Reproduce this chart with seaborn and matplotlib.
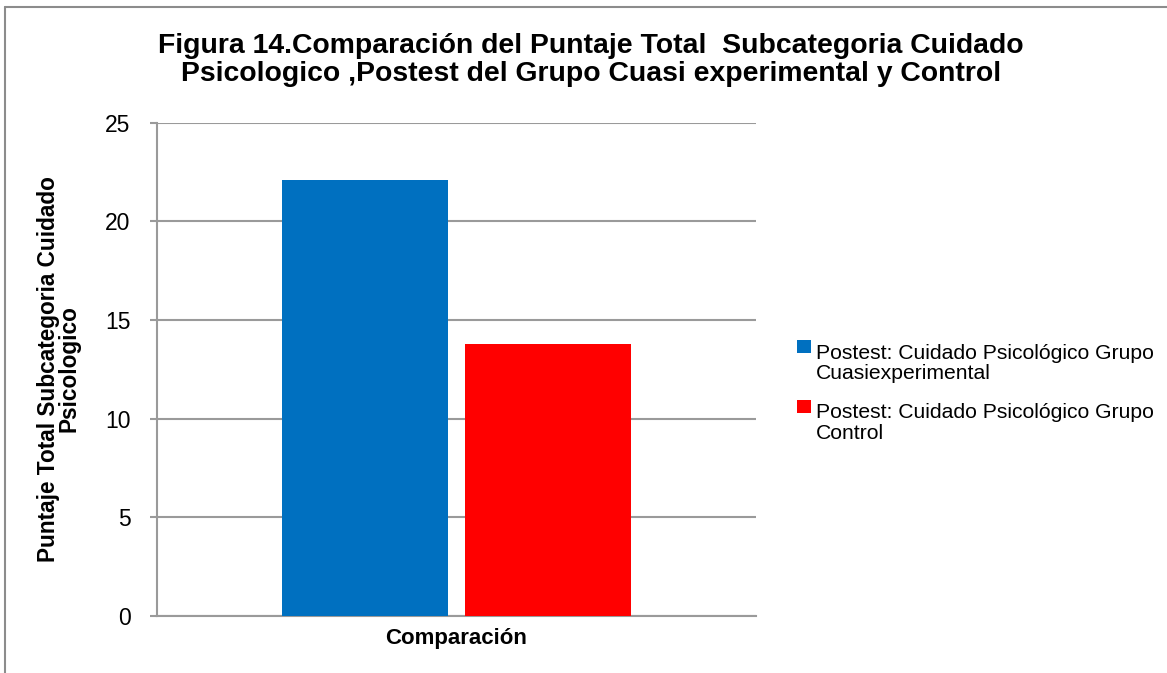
import matplotlib
matplotlib.use("Agg")
import matplotlib.pyplot as plt
import pandas as pd
import seaborn as sns
from matplotlib.lines import Line2D

# data
categoria = ["Comparación", "Comparación"]
series = ["Postest: Cuidado Psicológico Grupo\nCuasiexperimental",
          "Postest: Cuidado Psicológico Grupo\nControl"]
valores = [22.1, 13.8]
colores = ["#0070C0", "#FF0000"]
yticks = [0, 5, 10, 15, 20, 25]

titulo = ("Figura 14.Comparación del Puntaje Total  Subcategoria Cuidado\n"
          "Psicologico ,Postest del Grupo Cuasi experimental y Control")
ylabel = "Puntaje Total Subcategoria Cuidado\nPsicologico"
xlabel = "Comparación"

df = pd.DataFrame({"categoria": categoria, "serie": series, "valor": valores})

sns.set_style("white")
plt.rcParams["font.family"] = ["Liberation Sans", "DejaVu Sans"]
plt.rcParams["text.color"] = "black"
plt.rcParams["axes.labelcolor"] = "black"
plt.rcParams["ytick.color"] = "black"

W, H = 1167, 673
fig = plt.figure(figsize=(W / 100, H / 100), dpi=100)
ax = fig.add_axes([157 / W, 1 - 615.7 / H, (756 - 157) / W, (615.7 - 122.7) / H])

sns.barplot(data=df, x="categoria", y="valor", hue="serie", palette=colores,
            width=0.611, gap=0.093, saturation=1, linewidth=0, ax=ax, zorder=3)

ax.set_xlim(-0.5, 0.5)
ax.set_ylim(0, 25)
ax.set_yticks(yticks)
ax.set_yticklabels([str(t) for t in yticks], fontsize=16.5)
ax.set_xticks([])
ax.set_xlabel(xlabel, fontsize=16, fontweight="bold", labelpad=9)
ax.set_ylabel("")

gris = "#9a9a9a"
ax.grid(axis="y", color=gris, linewidth=1.5, zorder=0)
ax.set_axisbelow(True)
for s in ["top", "right"]:
    ax.spines[s].set_visible(False)
for s in ["left", "bottom"]:
    ax.spines[s].set_color(gris)
    ax.spines[s].set_linewidth(1.5)
ax.tick_params(axis="y", left=True, length=5, width=1.5, color=gris,
               labelcolor="black", pad=14)

fig.text(591 / W, 1 - 60 / H, titulo, ha="center", va="center", fontsize=20.4,
         fontweight="bold", linespacing=1.08)
fig.text(59 / W, 1 - 369 / H, ylabel, ha="center", va="center", rotation=90,
         fontsize=16.3, fontweight="bold", linespacing=0.88)

sns.move_legend(ax, "upper left", bbox_to_anchor=(786 / W, 1 - 333 / H),
                bbox_transform=fig.transFigure, frameon=False, title=None,
                fontsize=15.2, handlelength=0.68, handleheight=0.6,
                handletextpad=0.22, labelspacing=0.95, borderpad=0)
leg = ax.get_legend()
for t in leg.get_texts():
    t.set_linespacing(1.1)
# align the colour squares with the first line of each label
for p in leg.get_patches():
    p.set_y(p.get_y() + 12)

# frame around the chart area
fig.add_artist(Line2D([5 / W, 5 / W], [0, 1 - 7 / H], color="#8c8c8c", linewidth=1.5,
                      transform=fig.transFigure))
fig.add_artist(Line2D([5 / W, 1], [1 - 7 / H, 1 - 7 / H], color="#8c8c8c", linewidth=1.5,
                      transform=fig.transFigure))

fig.savefig("out.png", dpi=100)
